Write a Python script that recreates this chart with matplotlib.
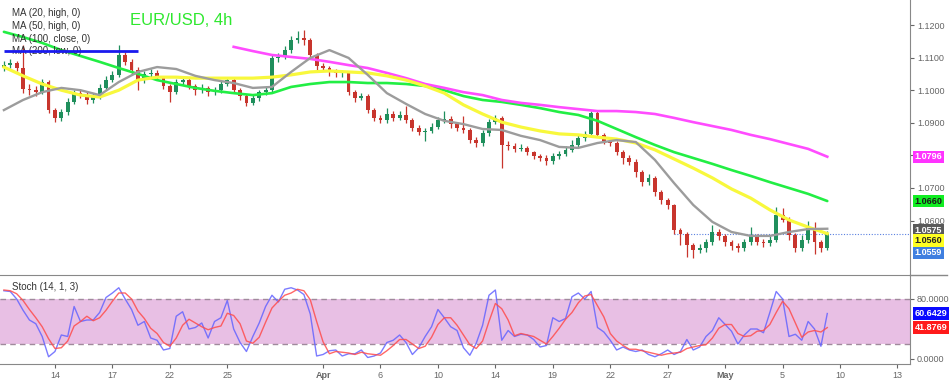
import matplotlib
matplotlib.use('Agg')
import matplotlib.pyplot as plt
import numpy as np

plt.rcParams['font.family'] = ['Liberation Sans', 'DejaVu Sans']

# EUR/USD, velas de 8h (3 por dia de mercado), 10 mar - 9 may
opens = [1.1070, 1.1077, 1.1083, 1.1068, 1.1005, 1.1000, 1.0994, 1.1025, 1.0939, 1.0915,
         1.0933, 1.0964, 1.0991, 1.0985, 1.0970, 1.0979, 1.1007, 1.1031, 1.1047, 1.1108,
         1.1087, 1.1062, 1.1031, 1.1050, 1.1053, 1.1037, 1.1013, 1.0994, 1.1025, 1.1031,
         1.1013, 1.1000, 1.1007, 1.0994, 1.1000, 1.1019, 1.1031, 1.1000, 1.0982, 1.0961,
         1.0976, 1.0994, 1.1000, 1.1099, 1.1102, 1.1123, 1.1154, 1.1160, 1.1154, 1.1108,
         1.1074, 1.1068, 1.1056, 1.1053, 1.1053, 1.0994, 1.0976, 1.0982, 1.0939, 1.0915,
         1.0909, 1.0927, 1.0915, 1.0924, 1.0909, 1.0884, 1.0872, 1.0875, 1.0887, 1.0909,
         1.0912, 1.0896, 1.0884, 1.0878, 1.0847, 1.0838, 1.0869, 1.0902, 1.0915, 1.0832,
         1.0829, 1.0820, 1.0823, 1.0810, 1.0798, 1.0792, 1.0783, 1.0798, 1.0804, 1.0817,
         1.0832, 1.0853, 1.0866, 1.0930, 1.0863, 1.0844, 1.0838, 1.0810, 1.0792, 1.0780,
         1.0749, 1.0718, 1.0731, 1.0688, 1.0663, 1.0648, 1.0571, 1.0559, 1.0525, 1.0510,
         1.0516, 1.0534, 1.0565, 1.0553, 1.0534, 1.0522, 1.0516, 1.0534, 1.0553, 1.0534,
         1.0531, 1.0540, 1.0617, 1.0602, 1.0556, 1.0516, 1.0540, 1.0577, 1.0534, 1.0516]
highs = [1.1090, 1.1095, 1.1090, 1.1138, 1.1018, 1.1012, 1.1035, 1.1030, 1.0945, 1.0942,
         1.0975, 1.1002, 1.1003, 1.0995, 1.0990, 1.1018, 1.1043, 1.1060, 1.1139, 1.1118,
         1.1095, 1.1070, 1.1060, 1.1065, 1.1062, 1.1045, 1.1020, 1.1035, 1.1042, 1.1038,
         1.1020, 1.1018, 1.1012, 1.1010, 1.1028, 1.1042, 1.1038, 1.1008, 1.0988, 1.0985,
         1.1002, 1.1012, 1.1108, 1.1115, 1.1135, 1.1165, 1.1182, 1.1185, 1.1160, 1.1115,
         1.1082, 1.1075, 1.1065, 1.1062, 1.1058, 1.1000, 1.0992, 1.0988, 1.0945, 1.0925,
         1.0945, 1.0935, 1.0935, 1.0952, 1.0915, 1.0892, 1.0885, 1.0898, 1.0918, 1.0935,
         1.0920, 1.0902, 1.0920, 1.0885, 1.0855, 1.0878, 1.0912, 1.0925, 1.0920, 1.0845,
         1.0838, 1.0835, 1.0830, 1.0815, 1.0805, 1.0800, 1.0808, 1.0815, 1.0828, 1.0848,
         1.0865, 1.0875, 1.0936, 1.0935, 1.0870, 1.0852, 1.0845, 1.0818, 1.0800, 1.0788,
         1.0755, 1.0742, 1.0738, 1.0695, 1.0670, 1.0652, 1.0578, 1.0565, 1.0532, 1.0528,
         1.0545, 1.0585, 1.0575, 1.0560, 1.0540, 1.0530, 1.0545, 1.0580, 1.0560, 1.0545,
         1.0552, 1.0642, 1.0640, 1.0610, 1.0562, 1.0555, 1.0600, 1.0595, 1.0542, 1.0568]
lows = [1.1060, 1.1068, 1.1060, 1.0990, 1.0985, 1.0982, 1.0988, 1.0930, 1.0902, 1.0905,
        1.0925, 1.0958, 1.0975, 1.0958, 1.0960, 1.0972, 1.1000, 1.1025, 1.1040, 1.1078,
        1.1050, 1.1000, 1.1022, 1.1040, 1.1030, 1.1005, 1.0964, 1.0988, 1.1015, 1.1005,
        1.0985, 1.0990, 1.0982, 1.0985, 1.0992, 1.1012, 1.0992, 1.0970, 1.0950, 1.0955,
        1.0968, 1.0985, 1.0995, 1.1085, 1.1095, 1.1115, 1.1145, 1.1140, 1.1095, 1.1062,
        1.1058, 1.1045, 1.1040, 1.1042, 1.0985, 1.0965, 1.0970, 1.0930, 1.0905, 1.0898,
        1.0900, 1.0905, 1.0908, 1.0900, 1.0875, 1.0862, 1.0845, 1.0868, 1.0880, 1.0900,
        1.0885, 1.0875, 1.0868, 1.0838, 1.0825, 1.0830, 1.0860, 1.0895, 1.0761, 1.0818,
        1.0810, 1.0812, 1.0800, 1.0790, 1.0782, 1.0772, 1.0775, 1.0790, 1.0798, 1.0810,
        1.0825, 1.0845, 1.0860, 1.0855, 1.0835, 1.0830, 1.0800, 1.0775, 1.0770, 1.0735,
        1.0705, 1.0710, 1.0675, 1.0652, 1.0635, 1.0560, 1.0525, 1.0488, 1.0485, 1.0500,
        1.0505, 1.0525, 1.0540, 1.0522, 1.0510, 1.0505, 1.0508, 1.0525, 1.0525, 1.0520,
        1.0522, 1.0535, 1.0595, 1.0540, 1.0505, 1.0508, 1.0530, 1.0498, 1.0505, 1.0510]
closes = [1.1077, 1.1083, 1.1068, 1.1005, 1.1000, 1.0994, 1.1025, 1.0939, 1.0915, 1.0933,
          1.0964, 1.0991, 1.0985, 1.0970, 1.0979, 1.1007, 1.1031, 1.1047, 1.1108, 1.1087,
          1.1062, 1.1031, 1.1050, 1.1053, 1.1037, 1.1013, 1.0994, 1.1025, 1.1031, 1.1013,
          1.1000, 1.1007, 1.0994, 1.1000, 1.1019, 1.1031, 1.1000, 1.0982, 1.0961, 1.0976,
          1.0994, 1.1000, 1.1099, 1.1102, 1.1123, 1.1154, 1.1160, 1.1154, 1.1108, 1.1074,
          1.1068, 1.1056, 1.1053, 1.1053, 1.0994, 1.0976, 1.0982, 1.0939, 1.0915, 1.0909,
          1.0927, 1.0915, 1.0924, 1.0909, 1.0884, 1.0872, 1.0875, 1.0887, 1.0909, 1.0912,
          1.0896, 1.0884, 1.0878, 1.0847, 1.0838, 1.0869, 1.0902, 1.0915, 1.0832, 1.0829,
          1.0820, 1.0823, 1.0810, 1.0798, 1.0792, 1.0783, 1.0798, 1.0804, 1.0817, 1.0832,
          1.0853, 1.0866, 1.0930, 1.0863, 1.0844, 1.0838, 1.0810, 1.0792, 1.0780, 1.0749,
          1.0718, 1.0731, 1.0688, 1.0663, 1.0648, 1.0571, 1.0559, 1.0525, 1.0510, 1.0516,
          1.0534, 1.0565, 1.0553, 1.0534, 1.0522, 1.0516, 1.0534, 1.0553, 1.0534, 1.0531,
          1.0540, 1.0617, 1.0602, 1.0556, 1.0516, 1.0540, 1.0577, 1.0534, 1.0516, 1.0559]

# medias moviles, un valor por dia (cada 3 velas)
ma20_high = [1.0939, 1.0970, 1.0994, 1.1007, 1.1000, 1.0985, 1.1025, 1.1056, 1.1071, 1.1065,
             1.1044, 1.1031, 1.1022, 1.1007, 1.1010, 1.1056, 1.1099, 1.1123, 1.1099, 1.1047,
             1.0991, 1.0958, 1.0927, 1.0906, 1.0896, 1.0881, 1.0878, 1.0860, 1.0847, 1.0826,
             1.0823, 1.0838, 1.0847, 1.0841, 1.0786, 1.0715, 1.0648, 1.0596, 1.0565, 1.0553,
             1.0553, 1.0565, 1.0574, 1.0575]
ma50_high = [1.1071, 1.1044, 1.1019, 1.1000, 1.0985, 1.0979, 1.1000, 1.1031, 1.1040, 1.1040,
             1.1037, 1.1037, 1.1037, 1.1037, 1.1040, 1.1047, 1.1056, 1.1059, 1.1056, 1.1053,
             1.1044, 1.1031, 1.1013, 1.0991, 1.0955, 1.0927, 1.0902, 1.0887, 1.0875, 1.0866,
             1.0863, 1.0856, 1.0850, 1.0838, 1.0817, 1.0789, 1.0761, 1.0731, 1.0697, 1.0669,
             1.0633, 1.0602, 1.0580, 1.0560]
ma100_close = [1.1179, 1.1163, 1.1145, 1.1123, 1.1105, 1.1087, 1.1068, 1.1050, 1.1031, 1.1019,
               1.1007, 1.0998, 1.0991, 1.0985, 1.0991, 1.1010, 1.1019, 1.1025, 1.1025, 1.1022,
               1.1022, 1.1019, 1.1013, 1.1000, 1.0982, 1.0970, 1.0964, 1.0955, 1.0945, 1.0933,
               1.0924, 1.0906, 1.0881, 1.0856, 1.0832, 1.0810, 1.0792, 1.0774, 1.0755, 1.0737,
               1.0718, 1.0700, 1.0682, 1.0660]
ma200_low = [1.1133, 1.1120, 1.1108, 1.1102, 1.1096, 1.1087, 1.1077, 1.1068, 1.1053, 1.1037,
             1.1019, 1.1007, 1.0994, 1.0985, 1.0970, 1.0961, 1.0955, 1.0948, 1.0942, 1.0936,
             1.0936, 1.0933, 1.0927, 1.0915, 1.0902, 1.0890, 1.0878, 1.0863, 1.0850, 1.0835,
             1.0820, 1.0796]
ma200_start = 36

stoch_k = [91, 90, 80, 65, 52, 47, 30, 3, 10, 32, 30, 70, 50, 52, 52, 62, 82, 88, 95, 80,
           66, 45, 50, 28, 25, 12, 14, 57, 63, 40, 42, 48, 28, 50, 55, 78, 40, 22, 10, 30,
           48, 70, 85, 76, 93, 95, 92, 86, 60, 4, 6, 11, 12, 4, 7, 7, 12, 2, 4, 8,
           22, 25, 32, 22, 6, 15, 30, 43, 66, 55, 43, 38, 15, 5, 21, 45, 85, 92, 25, 38,
           30, 33, 32, 26, 16, 18, 55, 50, 54, 83, 88, 80, 90, 42, 36, 25, 12, 16, 12, 10,
           12, 6, 3, 7, 12, 6, 10, 26, 12, 16, 30, 38, 55, 46, 37, 20, 32, 40, 40, 35,
           62, 90, 80, 30, 33, 25, 50, 40, 17, 60.6429]
stoch_d = [92, 91, 87, 78, 66, 55, 43, 27, 14, 15, 24, 44, 50, 57, 51, 55, 65, 77, 88, 88,
           80, 64, 54, 41, 34, 22, 17, 28, 45, 53, 48, 43, 39, 42, 44, 61, 58, 47, 24, 21,
           29, 49, 68, 77, 85, 88, 93, 91, 79, 50, 23, 7, 10, 9, 8, 6, 9, 7, 6, 5,
           11, 18, 26, 26, 20, 14, 17, 29, 46, 55, 55, 45, 32, 19, 14, 24, 50, 74, 67, 52,
           31, 34, 32, 30, 25, 20, 30, 41, 53, 62, 75, 84, 86, 71, 56, 34, 24, 18, 13, 13,
           11, 9, 7, 5, 7, 8, 9, 14, 16, 18, 19, 28, 41, 46, 46, 34, 30, 31, 37, 38,
           46, 62, 77, 67, 48, 29, 36, 38, 36, 41.8769]

# dias de mercado desde el lunes 14 mar, una etiqueta cada 3 dias
tick_labels = ['14', '17', '22', '25', 'Apr', '6', '10', '14', '19', '22', '27', 'May', '5', '10', '13']
tick_days = [0, 3, 6, 9, 14, 17, 20, 23, 26, 29, 32, 35, 38, 41, 44]
first_bar_day = -8 / 3.0
bars_per_day = 3

price_ticks = [1.06, 1.07, 1.08, 1.09, 1.10, 1.11, 1.12]
resistance = 1.1120

verde = '#1f8f5c'
rojo = '#c8352d'

fig = plt.figure(figsize=(9.5, 3.8), dpi=100)
ax = fig.add_axes([0, 1 - 275 / 380, 910 / 950, 275 / 380])
ax2 = fig.add_axes([0, 16 / 380, 910 / 950, 89 / 380])

o = np.array(opens)
h = np.array(highs)
l = np.array(lows)
c = np.array(closes)
x = np.arange(len(c))
sube = c >= o
colores = np.where(sube, verde, rojo)

ax.vlines(x, l, h, colors=colores, linewidth=0.9, zorder=3)
cuerpo = np.maximum(np.abs(c - o), 0.00025)
ax.bar(x, cuerpo, bottom=np.minimum(o, c), width=0.6, color=colores, linewidth=0, zorder=3)

x_ma = np.arange(0, len(c), 3)
ax.plot(x_ma, ma100_close, color='#22ee44', lw=1.9, zorder=4, solid_capstyle='round')
ax.plot(x_ma[ma200_start // 3:], ma200_low, color='#ff4cff', lw=1.9, zorder=4)
ax.plot(x_ma, ma50_high, color='#f8f83c', lw=2.3, zorder=4)
ax.plot(x_ma, ma20_high, color='#9c9c9c', lw=1.7, zorder=5)

xmax = 141.96
ax.hlines(resistance, 0, 21, color='#1a1aee', lw=2.0, zorder=6)
ax.hlines(c[-1], 105, xmax, color='#5a80e0', lw=0.8, linestyles=(0, (1, 1.5)), zorder=2)

ax.set_xlim(-0.61, xmax)
ax.set_ylim(1.04331, 1.12767)
ax.yaxis.tick_right()
ax.set_yticks(price_ticks)
# 1.0800 queda tapado por la etiqueta de la MA 200
ax.set_yticklabels(['' if abs(v - 1.08) < 1e-9 else '%.4f' % v for v in price_ticks])
ax.tick_params(axis='y', labelsize=6.5, colors='#666666', length=3, width=0.8, pad=2)
ax.set_xticks([])
for s in ['left', 'top', 'bottom']:
    ax.spines[s].set_visible(False)
ax.spines['right'].set_color('#888888')

leyenda = ['MA (20, high, 0)', 'MA (50, high, 0)', 'MA (100, close, 0)', 'MA (200, low, 0)']
for k, t in enumerate(leyenda):
    ax.text(0.013, 0.954 - k * 0.047, t, transform=ax.transAxes, fontsize=7,
            color='#333333', va='center', zorder=5)
ax.text(0.143, 0.927, 'EUR/USD, 4h', transform=ax.transAxes, fontsize=12,
        color='#2ee82e', va='center')


def etiqueta(eje, texto, valor, fondo, color_txt='white', dy=0):
    eje.annotate(texto, xy=(1, valor), xycoords=eje.get_yaxis_transform(),
                 xytext=(3.5, dy), textcoords='offset points', va='center', ha='left',
                 fontsize=6.5, color=color_txt, fontweight='bold', annotation_clip=False,
                 bbox=dict(boxstyle='square,pad=0.18', fc=fondo, ec='none'), zorder=10)


etiqueta(ax, '%.4f' % ma200_low[-1], ma200_low[-1], '#ff33ff')
etiqueta(ax, '%.4f' % ma100_close[-1], ma100_close[-1], '#11ee22', color_txt='#1a1a1a')
etiqueta(ax, '%.4f' % ma20_high[-1], ma20_high[-1], '#5a5a5a', dy=-1)
etiqueta(ax, '%.4f' % ma50_high[-1], ma50_high[-1], '#ffff22', color_txt='#222222', dy=-5)
etiqueta(ax, '%.4f' % closes[-1], closes[-1], '#3f7fe0', dy=-13.5)

# estocastico
ax2.axhspan(20, 80, color='#e8bfe4', lw=0, zorder=1)
ax2.axhline(80, color='#a08a9c', lw=1, ls=(0, (4, 3)), zorder=2)
ax2.axhline(20, color='#a08a9c', lw=1, ls=(0, (4, 3)), zorder=2)
xs = np.arange(len(stoch_k))
ax2.plot(xs, stoch_k, color='#6464ff', lw=1.0, alpha=0.85, zorder=3)
ax2.plot(xs, stoch_d, color='#ff4c4c', lw=1.0, alpha=0.85, zorder=4)
ax2.set_xlim(-0.61, xmax)
ax2.set_ylim(-6.67, 112)
ax2.yaxis.tick_right()
ax2.set_yticks([0, 80])
ax2.set_yticklabels(['0.0000', '80.0000'])
ax2.tick_params(axis='y', labelsize=6.5, colors='#666666', length=3, width=0.8, pad=2)
pos = [first_bar_day * -bars_per_day + d * bars_per_day for d in tick_days]
ax2.set_xticks(pos)
ax2.set_xticklabels(tick_labels)
ax2.tick_params(axis='x', labelsize=6.5, colors='#666666', length=3, width=0.8, pad=2)
for lbl in ax2.get_xticklabels():
    if lbl.get_text() in ('Apr', 'May'):
        lbl.set_fontweight('bold')
ax2.spines['left'].set_visible(False)
for s in ['top', 'bottom', 'right']:
    ax2.spines[s].set_color('#888888')
ax2.text(0.013, 0.865, 'Stoch (14, 1, 3)', transform=ax2.transAxes, fontsize=7,
         color='#333333', va='center', zorder=5)
etiqueta(ax2, '%.4f' % stoch_k[-1], stoch_k[-1], '#0a0aff')
etiqueta(ax2, '%.4f' % stoch_d[-1], stoch_d[-1], '#ff1a1a')

fig.add_artist(plt.Line2D([910 / 950, 947 / 950], [1 - 275 / 380] * 2, color='#888888', lw=1))

fig.savefig('out.png', dpi=100)
